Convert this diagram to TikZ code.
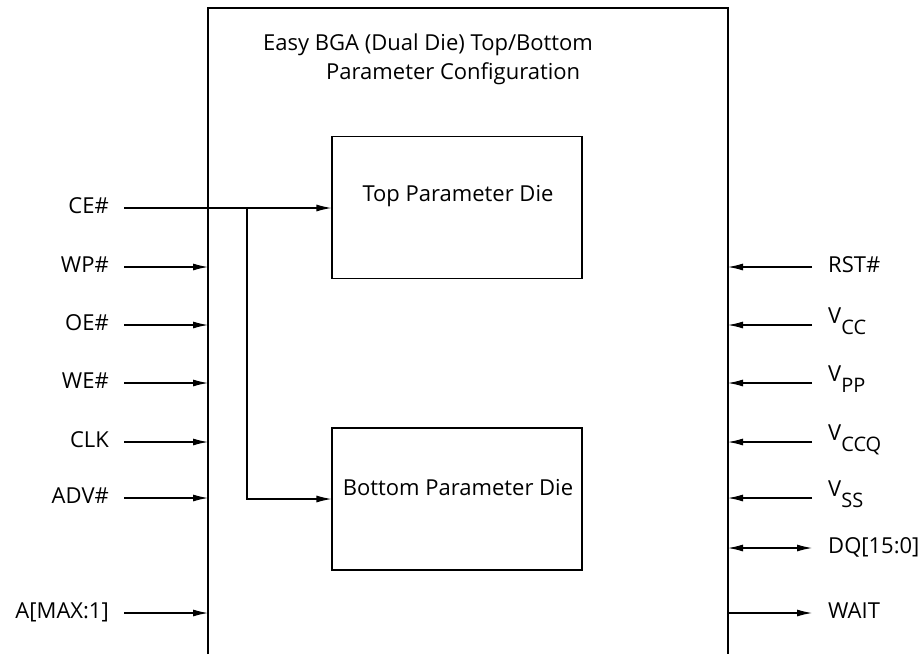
\documentclass[tikz,border=0pt]{standalone}
\usepackage{fontspec}
\setmainfont{Open Sans}
\usetikzlibrary{arrows.meta,positioning}
\tikzset{
    sig/.style={line width=1.1pt, -{Latex[length=15pt,width=7pt]}},
    bisig/.style={line width=1.1pt, {Latex[length=15pt,width=7pt]}-{Latex[length=15pt,width=7pt]}},
    die/.style={draw, line width=1.1pt, minimum width=250pt, minimum height=142pt, inner sep=0pt},
    pinl/.style={anchor=east, inner sep=0pt, text height=15pt, text depth=4pt},
    pinr/.style={anchor=west, inner sep=0pt, text height=15pt, text depth=4pt},
}
\newcommand{\vsub}[1]{\raisebox{0.3em}{V}\raisebox{-0.18em}{\fontsize{20}{22}\selectfont #1}}
\begin{document}
\begin{tikzpicture}[x=1pt, y=-1pt, font=\fontsize{22}{26}\selectfont]
            \useasboundingbox (0,0) rectangle (920,654);
            % package outline, open at the bottom
            \draw[line width=1.1pt] (208,654) -- (208,8) -- (728,8) -- (728,654);
            \coordinate (chipl) at (208,8);
            \coordinate (chipr) at (728,8);
            \node[anchor=west, inner sep=0pt] (title1) at (263,45) {Easy BGA (Dual Die) Top/Bottom};
            \node[anchor=west, inner sep=0pt] (title2) at (326,74) {Parameter Configuration};
            % the two dies
            \node[die] (topdie) at (457,207.5) {};
            \node (toplbl) at (458,196) {Top Parameter Die};
            \node[die] (botdie) at (457,499) {};
            \node (botlbl) at (458,488) {Bottom Parameter Die};
            % chip enable goes to both dies
            \node[pinl] (ce) at (109,208) {CE\#};
            \draw[sig] ([xshift=15pt]ce.east) -- (topdie.west |- ce.east);
            \coordinate (cebr) at (247,208);
            \draw[sig] (cebr) |- (botdie.west);
            % left pins
            \foreach \yy/\nm/\txt in {267/wp/WP\#, 325/oe/OE\#, 383/we/WE\#, 442/clk/CLK, 498/adv/ADV\#, 613/addr/A[MAX:1]}{
                \node[pinl] (\nm) at (109,\yy) {\txt};
                \draw[sig] ([xshift=15pt]\nm.east) -- (chipl |- \nm.east);
            }
            % right pins
            \foreach \yy/\nm/\txt in {267/rst/RST\#, 325/vcc/\vsub{CC}, 383/vpp/\vsub{PP}, 442/vccq/\vsub{CCQ}, 498/vss/\vsub{SS}}{
                \node[pinr] (\nm) at (828,\yy) {\txt};
                \draw[sig] ([xshift=-16pt]\nm.west) -- (chipr |- \nm.west);
            }
            \node[pinr] (dq) at (828,548) {DQ[15:0]};
            \draw[bisig] (chipr |- dq.west) -- ([xshift=-16pt]dq.west);
            \node[pinr] (wait) at (828,613) {WAIT};
            \draw[sig] (chipr |- wait.west) -- ([xshift=-16pt]wait.west);
        \end{tikzpicture}
\end{document}
